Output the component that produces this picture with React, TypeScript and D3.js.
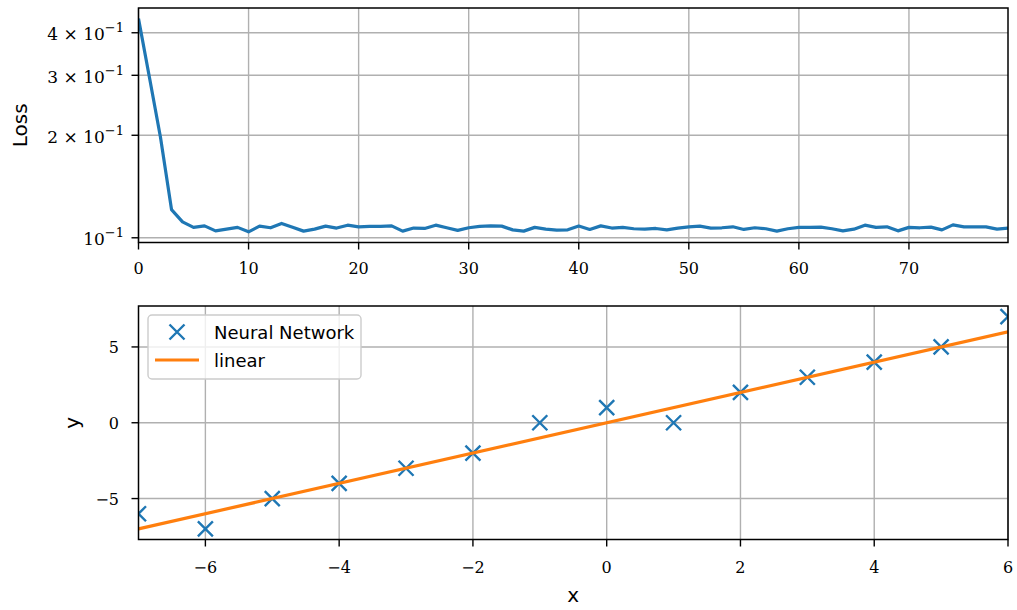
import React from "react";
import * as d3 from "d3";

// ---------- data ----------
const lossValues: number[] = [
  0.44, 0.295, 0.197, 0.121, 0.1114, 0.1073, 0.1084, 0.1048, 0.106, 0.1073,
  0.1041, 0.1082, 0.107, 0.1102, 0.1073, 0.1046, 0.106, 0.1082, 0.1068, 0.1089,
  0.1077, 0.108, 0.108, 0.1084, 0.1046, 0.1068, 0.1065, 0.1089, 0.107, 0.1051,
  0.107, 0.108, 0.1084, 0.1082, 0.1055, 0.1046, 0.1073, 0.106, 0.1053, 0.1055,
  0.1083, 0.1058, 0.1084, 0.1068, 0.1073, 0.1063, 0.106, 0.1065, 0.1055, 0.1068,
  0.1077, 0.1082, 0.1068, 0.107, 0.1077, 0.1058, 0.107, 0.1063, 0.1046, 0.1063,
  0.1073, 0.1073, 0.1075, 0.1063, 0.1048, 0.106, 0.1089, 0.1073, 0.1077, 0.1048,
  0.1073, 0.107, 0.1075, 0.1055, 0.1091, 0.1077, 0.1077, 0.1077, 0.106, 0.1068,
];

const xPoints: number[] = [-7, -6, -5, -4, -3, -2, -1, 0, 1, 2, 3, 4, 5, 6];
const nnPredictions: number[] = [-6, -7, -5, -4, -3, -2, 0, 1, 0, 2, 3, 4, 5, 7];
const linearX: number[] = [-7, 6];
const linearY: number[] = [-7, 6];

const topXTicks: number[] = [0, 10, 20, 30, 40, 50, 60, 70];
const topYTicks: number[] = [0.1, 0.2, 0.3, 0.4];
const topYTickMant: string[] = ["", "2", "3", "4"];
const bottomXTicks: number[] = [-6, -4, -2, 0, 2, 4, 6];
const bottomYTicks: number[] = [-5, 0, 5];
const legendLabels: string[] = ["Neural Network", "linear"];

// ---------- layout ----------
const W = 1017;
const H = 610;
const L = 138.5;
const R = 1008;
const top1 = 8;
const bot1 = 242.5;
const top2 = 306;
const bot2 = 539.5;

const BLUE = "#1f77b4";
const ORANGE = "#ff7f0e";
const GRID = "#b0b0b0";
const SERIF = "'DejaVu Serif', serif";
const SANS = "'DejaVu Sans', sans-serif";

const minus = (v: number) => (v < 0 ? "\u2212" + Math.abs(v) : String(v));

export default function App() {
  // top axes scales
  const x1 = d3.scaleLinear().domain([0, lossValues.length - 1]).range([L, R]);
  const lmin = Math.log10(d3.min(lossValues)!);
  const lmax = Math.log10(d3.max(lossValues)!);
  const m = (lmax - lmin) * 0.05;
  const y1 = d3
    .scaleLog()
    .domain([Math.pow(10, lmin - m), Math.pow(10, lmax + m)])
    .range([bot1, top1]);

  const lossLine = d3
    .line<number>()
    .x((_, i) => x1(i))
    .y((d) => y1(d))(lossValues) as string;

  // bottom axes scales
  const ymin = d3.min(nnPredictions)!;
  const ymax = d3.max(nnPredictions)!;
  const ym = (ymax - ymin) * 0.05;
  const x2 = d3.scaleLinear().domain([d3.min(xPoints)!, d3.max(xPoints)!]).range([L, R]);
  const y2 = d3.scaleLinear().domain([ymin - ym, ymax + ym]).range([bot2, top2]);

  const linPath = d3
    .line<number>()
    .x((d) => x2(d))
    .y((_, i) => y2(linearY[i]))(linearX) as string;

  const ms = 7.5;
  const cross = (cx: number, cy: number, key: string | number, clip?: string) => (
    <path
      key={key}
      d={`M${cx - ms},${cy - ms}L${cx + ms},${cy + ms}M${cx - ms},${cy + ms}L${cx + ms},${cy - ms}`}
      stroke={BLUE}
      strokeWidth={2.4}
      fill="none"
      clipPath={clip}
    />
  );

  const tickLen = 7;

  return (
    <svg
      width={W}
      height={H}
      style={{ position: "absolute", left: 0, top: 0, background: "#fff" }}
    >
      <defs>
        <clipPath id="c1">
          <rect x={L} y={top1} width={R - L} height={bot1 - top1} />
        </clipPath>
        <clipPath id="c2">
          <rect x={L} y={top2} width={R - L} height={bot2 - top2} />
        </clipPath>
      </defs>
      <rect x={0} y={0} width={W} height={H} fill="#fff" />

      {/* ---------- top axes ---------- */}
      <g>
        {topXTicks.map((t) => (
          <line key={"gx1" + t} x1={x1(t)} x2={x1(t)} y1={top1} y2={bot1} stroke={GRID} strokeWidth={1.4} />
        ))}
        {topYTicks.map((t) => (
          <line key={"gy1" + t} x1={L} x2={R} y1={y1(t)} y2={y1(t)} stroke={GRID} strokeWidth={1.4} />
        ))}
        <path d={lossLine} fill="none" stroke={BLUE} strokeWidth={3.2} strokeLinejoin="round" clipPath="url(#c1)" />
        <rect x={L} y={top1} width={R - L} height={bot1 - top1} fill="none" stroke="#000" strokeWidth={1.5} />
        {topXTicks.map((t) => (
          <g key={"tx1" + t}>
            <line x1={x1(t)} x2={x1(t)} y1={bot1} y2={bot1 + tickLen} stroke="#000" strokeWidth={1.4} />
            <text x={x1(t)} y={bot1 + 31} textAnchor="middle" fontFamily={SERIF} fontSize={16}>
              {minus(t)}
            </text>
          </g>
        ))}
        {topYTicks.map((t, i) => (
          <g key={"ty1" + t}>
            <line x1={L - tickLen} x2={L} y1={y1(t)} y2={y1(t)} stroke="#000" strokeWidth={1.4} />
            <text x={124} y={y1(t) + 7.5} textAnchor="end" fontFamily={SERIF} fontSize={17}>
              {topYTickMant[i] ? topYTickMant[i] + " \u00d7 10" : "10"}
              <tspan fontSize={13} dy={-8}>
                {"\u22121"}
              </tspan>
            </text>
          </g>
        ))}
        <text
          transform={`translate(27,${(top1 + bot1) / 2}) rotate(-90)`}
          textAnchor="middle"
          fontFamily={SANS}
          fontSize={20}
        >
          Loss
        </text>
      </g>

      {/* ---------- bottom axes ---------- */}
      <g>
        {bottomXTicks.map((t) => (
          <line key={"gx2" + t} x1={x2(t)} x2={x2(t)} y1={top2} y2={bot2} stroke={GRID} strokeWidth={1.4} />
        ))}
        {bottomYTicks.map((t) => (
          <line key={"gy2" + t} x1={L} x2={R} y1={y2(t)} y2={y2(t)} stroke={GRID} strokeWidth={1.4} />
        ))}
        {xPoints.map((xv, i) => cross(x2(xv), y2(nnPredictions[i]), "p" + i, "url(#c2)"))}
        <path d={linPath} fill="none" stroke={ORANGE} strokeWidth={3.2} clipPath="url(#c2)" />
        <rect x={L} y={top2} width={R - L} height={bot2 - top2} fill="none" stroke="#000" strokeWidth={1.5} />
        {bottomXTicks.map((t) => (
          <g key={"tx2" + t}>
            <line x1={x2(t)} x2={x2(t)} y1={bot2} y2={bot2 + tickLen} stroke="#000" strokeWidth={1.4} />
            <text x={x2(t)} y={bot2 + 33} textAnchor="middle" fontFamily={SERIF} fontSize={16}>
              {minus(t)}
            </text>
          </g>
        ))}
        {bottomYTicks.map((t) => (
          <g key={"ty2" + t}>
            <line x1={L - tickLen} x2={L} y1={y2(t)} y2={y2(t)} stroke="#000" strokeWidth={1.4} />
            <text x={119} y={y2(t) + 6} textAnchor="end" fontFamily={SERIF} fontSize={16}>
              {minus(t)}
            </text>
          </g>
        ))}
        <text
          transform={`translate(79,${(top2 + bot2) / 2}) rotate(-90)`}
          textAnchor="middle"
          fontFamily={SANS}
          fontSize={20}
        >
          y
        </text>
        <text x={(L + R) / 2} y={602} textAnchor="middle" fontFamily={SANS} fontSize={20}>
          x
        </text>

        {/* legend */}
        <rect x={148} y={315} width={213} height={64} rx={4} fill="#fff" fillOpacity={0.8} stroke="#cccccc" strokeWidth={1.4} />
        {cross(177, 332, "leg")}
        <line x1={155} x2={199} y1={360} y2={360} stroke={ORANGE} strokeWidth={3.2} />
        <text x={214} y={338.5} fontFamily={SANS} fontSize={18}>
          {legendLabels[0]}
        </text>
        <text x={214} y={366.5} fontFamily={SANS} fontSize={18}>
          {legendLabels[1]}
        </text>
      </g>
    </svg>
  );
}
